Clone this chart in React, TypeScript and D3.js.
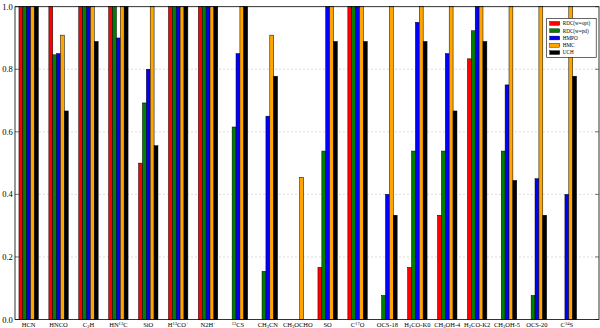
import React from "react";
import * as d3 from "d3";

const categories: string[] = [
  "HCN", "HNCO", "C2H", "HN13C", "SiO", "H13CO+", "N2H+", "13CS", "CH3CN", "CH3OCHO",
  "SO", "C17O", "OCS-18", "H2CO-K0", "CH3OH-4", "H2CO-K2", "CH3OH-5", "OCS-20", "C34S",
];

// label pieces: [text, "n" normal | "sub" | "sup"]
const labelParts: [string, string][][] = [
  [["HCN", "n"]],
  [["HNCO", "n"]],
  [["C", "n"], ["2", "sub"], ["H", "n"]],
  [["HN", "n"], ["13", "sup"], ["C", "n"]],
  [["SiO", "n"]],
  [["H", "n"], ["13", "sup"], ["CO", "n"], ["+", "sup"]],
  [["N2H", "n"], ["+", "sup"]],
  [["13", "sup"], ["CS", "n"]],
  [["CH", "n"], ["3", "sub"], ["CN", "n"]],
  [["CH", "n"], ["3", "sub"], ["OCHO", "n"]],
  [["SO", "n"]],
  [["C", "n"], ["17", "sup"], ["O", "n"]],
  [["OCS-18", "n"]],
  [["H", "n"], ["2", "sub"], ["CO-K0", "n"]],
  [["CH", "n"], ["3", "sub"], ["OH-4", "n"]],
  [["H", "n"], ["2", "sub"], ["CO-K2", "n"]],
  [["CH", "n"], ["3", "sub"], ["OH-5", "n"]],
  [["OCS-20", "n"]],
  [["C", "n"], ["34", "sup"], ["S", "n"]],
];

const seriesNames: string[] = ["RDC(w=opt)", "RDC(w=pd)", "HMPO", "HMC", "UCH"];
const seriesColors: string[] = ["#ff0000", "#008000", "#0000ff", "#ffa500", "#000000"];

const rdcOpt: number[] = [1, 1, 1, 1, 0.5, 1, 1, 0, 0, 0, 1 / 6, 1, 0, 1 / 6, 1 / 3, 5 / 6, 0, 0, 0];
const rdcPd: number[] = [1, 11 / 13, 1, 1, 9 / 13, 1, 1, 8 / 13, 2 / 13, 0, 7 / 13, 1, 1 / 13, 7 / 13, 7 / 13, 12 / 13, 7 / 13, 1 / 13, 0];
const hmpo: number[] = [1, 0.85, 1, 0.9, 0.8, 1, 1, 0.85, 0.65, 0, 1, 1, 0.4, 0.95, 0.85, 1, 0.75, 0.45, 0.4];
const hmc: number[] = [1, 10 / 11, 1, 1, 1, 1, 1, 1, 10 / 11, 5 / 11, 1, 1, 1, 1, 1, 1, 1, 1, 1];
const uch: number[] = [1, 2 / 3, 8 / 9, 1, 5 / 9, 1, 1, 1, 7 / 9, 0, 8 / 9, 8 / 9, 1 / 3, 8 / 9, 2 / 3, 8 / 9, 4 / 9, 1 / 3, 7 / 9];

const seriesValues: number[][] = [rdcOpt, rdcPd, hmpo, hmc, uch];
const yTicks: number[] = [0, 0.2, 0.4, 0.6, 0.8, 1.0];

const W = 600;
const H = 328;
const left = 15;
const right = 599;
const top = 6.7;
const bottom = 319.5;

export default function App() {
  const x = d3
    .scaleBand<string>()
    .domain(categories)
    .range([left, right])
    .paddingInner(0.351)
    .paddingOuter(0.4415)
    .align(0.15);
  const xs = d3
    .scaleBand<string>()
    .domain(seriesNames)
    .range([0, x.bandwidth()])
    .padding(0);
  const y = d3.scaleLinear().domain([0, 1]).range([bottom, top]);

  const font = "'Liberation Serif', 'DejaVu Serif', serif";

  return (
    <svg
      width={W}
      height={H}
      style={{ position: "absolute", left: 0, top: 0, background: "#fff" }}
      fontFamily={font}
    >
      {/* grid */}
      {yTicks
        .filter((t) => t > 0 && t < 1)
        .map((t) => (
          <line
            key={"g" + t}
            x1={left}
            x2={right}
            y1={y(t)}
            y2={y(t)}
            stroke="#c8c8c8"
            strokeWidth={0.6}
            strokeDasharray="2,2"
          />
        ))}
      {/* bars */}
      {seriesValues.map((vals, si) =>
        vals.map((v, ci) =>
          v > 0 ? (
            <rect
              key={si + "-" + ci}
              x={(x(categories[ci]) as number) + (xs(seriesNames[si]) as number)}
              y={y(v)}
              width={xs.bandwidth()}
              height={y(0) - y(v)}
              fill={seriesColors[si]}
              stroke="#000"
              strokeWidth={0.5}
            />
          ) : null
        )
      )}
      {/* y ticks */}
      {yTicks.map((t) => (
        <g key={"yt" + t}>
          <line x1={left} x2={left + 4} y1={y(t)} y2={y(t)} stroke="#000" strokeWidth={0.5} />
          <line x1={right - 4} x2={right} y1={y(t)} y2={y(t)} stroke="#000" strokeWidth={0.5} />
          <text x={12.8} y={y(t) + 3} fontSize={8.5} textAnchor="end" fill="#000">
            {t.toFixed(1)}
          </text>
        </g>
      ))}
      {/* x labels */}
      {categories.map((c, ci) => {
        const cx = (x(c) as number) + x.bandwidth() / 2;
        return (
          <text key={"xl" + c} x={cx} y={326.5} fontSize={6.5} textAnchor="middle" fill="#000">
            {labelParts[ci].map(([s, kind], k) => (
              <tspan
                key={k}
                fontSize={kind === "n" ? 6.5 : 4.6}
                baselineShift={kind === "sub" ? "-25%" : kind === "sup" ? "45%" : "0"}
              >
                {s}
              </tspan>
            ))}
          </text>
        );
      })}
      {/* frame */}
      <rect x={left} y={top} width={right - left} height={bottom - top} fill="none" stroke="#000" strokeWidth={0.8} />
      {/* legend */}
      <g transform="translate(546.7,18.3)">
        <rect x={0} y={0} width={49.5} height={39} fill="#fff" stroke="#000" strokeWidth={0.6} />
        {seriesNames.map((s, si) => (
          <g key={"lg" + s} transform={`translate(0,${5 + si * 7.3})`}>
            <rect x={3} y={-1.8} width={10} height={3.8} fill={seriesColors[si]} stroke="#000" strokeWidth={0.4} />
            <text x={16} y={1.9} fontSize={5.2} fill="#000">
              {s}
            </text>
          </g>
        ))}
      </g>
    </svg>
  );
}
